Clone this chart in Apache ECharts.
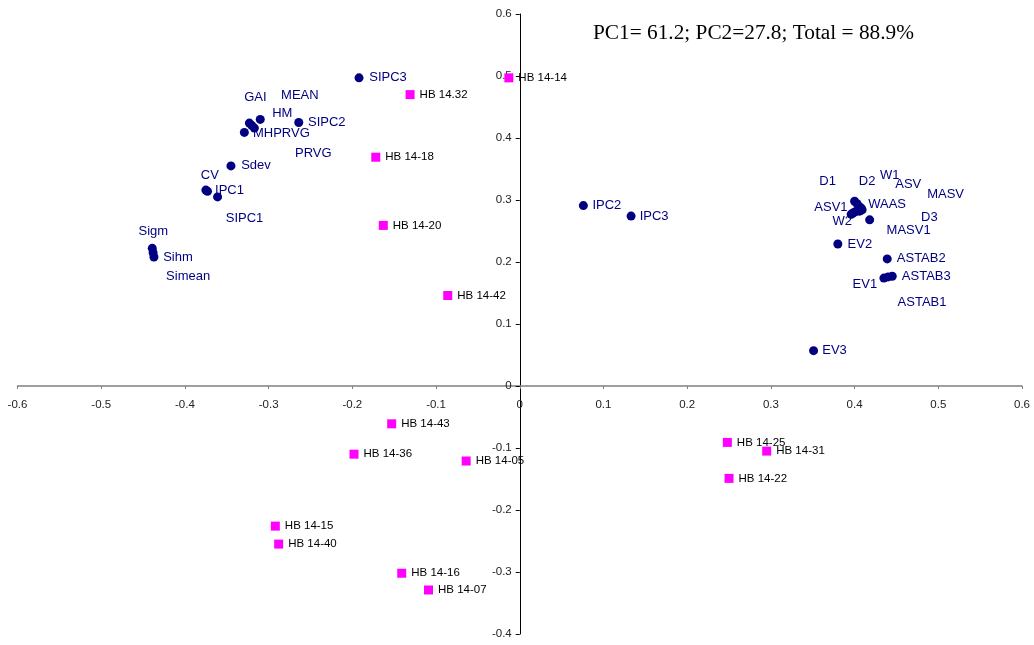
<!DOCTYPE html>
<html>
<head>
<meta charset="utf-8">
<script src="https://cdn.jsdelivr.net/npm/echarts@6/dist/echarts.min.js"></script>
<style>
html,body{margin:0;padding:0;background:#fff;}
#chart{width:1034px;height:645px;}
</style>
</head>
<body>
<div id="chart"></div>
<script>
// ---- Data ----
const titleText = 'PC1= 61.2; PC2=27.8; Total = 88.9%';

const varNames = ['SIPC3','SIPC2','HM','GAI','MEAN','MHPRVG','PRVG','Sdev','CV','IPC1','SIPC1','Sigm','Sihm','Simean',
  'IPC2','IPC3','D1','D2','W1','ASV','WAAS','MASV','ASV1','W2','D3','MASV1','EV2','ASTAB2','ASTAB3','EV1','ASTAB1','EV3'];
const varPC1 = [-0.192,-0.264,-0.310,-0.323,-0.320,-0.317,-0.329,-0.345,-0.375,-0.373,-0.361,-0.439,-0.437,-0.438,
  0.076,0.133,0.400,0.403,0.405,0.408,0.409,0.406,0.398,0.396,0.401,0.418,0.380,0.439,0.445,0.435,0.440,0.351];
const varPC2 = [0.497,0.425,0.430,0.424,0.420,0.416,0.409,0.355,0.316,0.314,0.305,0.222,0.208,0.215,
  0.291,0.274,0.298,0.294,0.290,0.287,0.284,0.282,0.279,0.277,0.281,0.268,0.229,0.205,0.177,0.174,0.176,0.057];

const genNames = ['HB 14-14','HB 14.32','HB 14-18','HB 14-20','HB 14-42','HB 14-43','HB 14-36','HB 14-05',
  'HB 14-15','HB 14-40','HB 14-16','HB 14-07','HB 14-25','HB 14-31','HB 14-22'];
const genPC1 = [-0.013,-0.131,-0.172,-0.163,-0.086,-0.153,-0.198,-0.064,-0.292,-0.288,-0.141,-0.109,0.248,0.295,0.250];
const genPC2 = [0.497,0.470,0.369,0.259,0.146,-0.061,-0.110,-0.121,-0.226,-0.255,-0.302,-0.329,-0.091,-0.105,-0.149];

const xTicks = {min:-0.6, max:0.6, step:0.1};
const yTicks = {min:-0.4, max:0.6, step:0.1};

// ---- Label placement (styling, pixel offsets of label centre from point) ----
const labelOffsets = {
  SIPC3:[29,0], SIPC2:[28,0], HM:[22,-6], GAI:[6,-26], MEAN:[48,-30], MHPRVG:[27,5], PRVG:[69,21],
  Sdev:[25,0], CV:[4,-15], IPC1:[22,-1], SIPC1:[27,22], Sigm:[1,-17], Sihm:[24,0], Simean:[35,24],
  IPC2:[23.5,0], IPC3:[23,0], D1:[-27,-20], D2:[10,-22], W1:[31,-31], ASV:[47,-24], WAAS:[25,-5],
  MASV:[86,-17], ASV1:[-22,-6], W2:[-9,7], D3:[74,6], MASV1:[39,11], EV2:[22,0], ASTAB2:[34,0],
  ASTAB3:[34,0], EV1:[-19,6], ASTAB1:[34,26], EV3:[21,0]
};

const navy = '#000080';
const magenta = '#FF00FF';

// grid geometry (styling)
const G = {left:17.5, right:12, top:14, bottom:11, W:1034, H:645};
const plotW = G.W - G.left - G.right, plotH = G.H - G.top - G.bottom;
const zeroX = plotW * (0 - xTicks.min) / (xTicks.max - xTicks.min);
const zeroY = plotH * (yTicks.max - 0) / (yTicks.max - yTicks.min);

const varData = varNames.map((n,i)=>({name:n, value:[varPC1[i], varPC2[i]]}));
const genData = genNames.map((n,i)=>({name:n, value:[genPC1[i], genPC2[i]]}));

const fmt = v => String(Math.round(v*10)/10);

const chart = echarts.init(document.getElementById('chart'), null, {renderer:'canvas'});
chart.setOption({
  animation:false,
  backgroundColor:'#fff',
  grid:{left:G.left, right:G.right, top:G.top, bottom:G.bottom, containLabel:false, outerBoundsMode:'none'},
  xAxis:{
    type:'value', min:xTicks.min, max:xTicks.max, interval:xTicks.step,
    position:'bottom', offset:-(plotH - zeroY),
    axisLine:{onZero:false, lineStyle:{color:'#808080', width:1.5}},
    axisTick:{show:true, length:3, inside:false, lineStyle:{color:'#808080'}},
    axisLabel:{color:'#222', fontFamily:'Liberation Sans, Arial', fontSize:11.5, margin:13, formatter:fmt},
    splitLine:{show:false}
  },
  yAxis:{
    type:'value', min:yTicks.min, max:yTicks.max, interval:yTicks.step,
    position:'left', offset:-zeroX,
    axisLine:{onZero:false, lineStyle:{color:'#000', width:1}},
    axisTick:{show:true, length:4, inside:false, lineStyle:{color:'#000'}},
    axisLabel:{color:'#222', fontFamily:'Liberation Sans, Arial', fontSize:11.5, margin:8, formatter:fmt},
    splitLine:{show:false}
  },
  graphic:[{
    type:'text', left:593, top:23,
    style:{text:titleText, font:'21.3px "Liberation Serif", "Times New Roman", serif', fill:'#000'}
  }],
  series:[
    {
      type:'scatter', name:'Genotypes', data:genData, symbol:'rect', symbolSize:9,
      itemStyle:{color:magenta, opacity:1},
      label:{show:true, position:'right', distance:5, formatter:'{b}', color:'#000',
        fontFamily:'Liberation Sans, Arial', fontSize:11.5},
      z:3
    },
    {
      type:'scatter', name:'Variables', data:varData, symbol:'circle', symbolSize:9,
      itemStyle:{color:navy, opacity:1},
      label:{show:true, position:'inside', formatter:'{b}',
        color:navy, fontFamily:'Liberation Sans, Arial', fontSize:13},
      labelLayout:function(p){
        const o = labelOffsets[varNames[p.dataIndex]] || [20,0];
        return {
          x: p.rect.x + p.rect.width/2 + o[0],
          y: p.rect.y + p.rect.height/2 + o[1],
          align:'center', verticalAlign:'middle', hideOverlap:false
        };
      },
      z:4
    }
  ]
});
</script>
</body>
</html>
